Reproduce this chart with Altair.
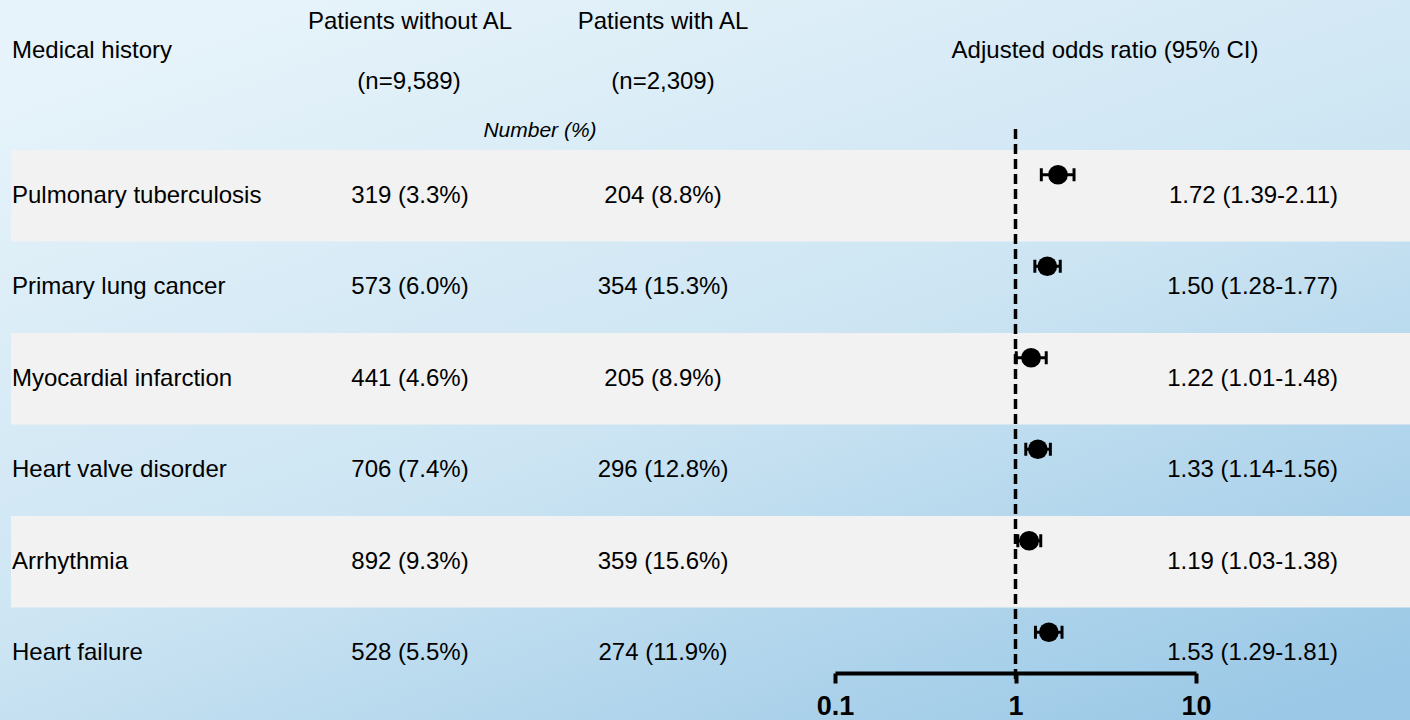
import altair as alt
import pandas as pd

# ---- data -----------------------------------------------------------------
conditions = [
    "Pulmonary tuberculosis",
    "Primary lung cancer",
    "Myocardial infarction",
    "Heart valve disorder",
    "Arrhythmia",
    "Heart failure",
]
without_n = [319, 573, 441, 706, 892, 528]
without_pct = [3.3, 6.0, 4.6, 7.4, 9.3, 5.5]
with_n = [204, 354, 205, 296, 359, 274]
with_pct = [8.8, 15.3, 8.9, 12.8, 15.6, 11.9]
odds_ratio = [1.72, 1.50, 1.22, 1.33, 1.19, 1.53]
ci_low = [1.39, 1.28, 1.01, 1.14, 1.03, 1.29]
ci_high = [2.11, 1.77, 1.48, 1.56, 1.38, 1.81]
axis_ticks = [0.1, 1, 10]

W, H = 1410, 720
FONT = "Liberation Sans"

rows = pd.DataFrame({
    "cond": conditions,
    "row": list(range(len(conditions))),
    "without": [f"{n} ({p:.1f}%)" for n, p in zip(without_n, without_pct)],
    "with": [f"{n} ({p:.1f}%)" for n, p in zip(with_n, with_pct)],
    "or": odds_ratio,
    "lo": ci_low,
    "hi": ci_high,
    "or_text": [f"{o:.2f} ({l:.2f}-{h:.2f})" for o, l, h in zip(odds_ratio, ci_low, ci_high)],
})
rows["row_end"] = rows["row"] + 1
rows["mid"] = rows["row"] + 0.5

y_scale = alt.Scale(domain=[0, len(conditions)], range=[150, 699], nice=False, zero=False)
x_scale = alt.Scale(type="log", domain=[0.1, 10], range=[835, 1196], nice=False)

base = alt.Chart(rows)

# ---- background gradient ----------------------------------------------------
backdrop = alt.Chart(alt.Data(values=[{}])).mark_rect(
    color=alt.Gradient(
        gradient="linear",
        stops=[
            alt.GradientStop(color="#e6f3fa", offset=0),
            alt.GradientStop(color="#cde5f3", offset=0.5),
            alt.GradientStop(color="#9ac8e6", offset=1),
        ],
        x1=0.2, y1=0, x2=0.9, y2=1,
    )
).encode(x=alt.value(0), x2=alt.value(W), y=alt.value(0), y2=alt.value(H))

# alternating light-grey row bands
bands = base.transform_filter("datum.row % 2 == 0").mark_rect(color="#f2f2f2").encode(
    x=alt.value(11), x2=alt.value(W),
    y=alt.Y("row:Q", scale=y_scale, axis=None),
    y2="row_end:Q",
)

# ---- header texts -----------------------------------------------------------
def header(text, x, y, align="center", size=24, style="normal"):
    return alt.Chart(alt.Data(values=[{}])).mark_text(
        text=text, font=FONT, fontSize=size, fontStyle=style, color="black",
        align=align, baseline="alphabetic",
    ).encode(x=alt.value(x), y=alt.value(y))

headers = [
    header("Medical history", 12, 58, align="left"),
    header("Patients without AL", 410, 29),
    header("(n=9,589)", 409, 89),
    header("Patients with AL", 663, 29),
    header("(n=2,309)", 663, 89),
    header("Number (%)", 540, 137, size=21, style="italic"),
    header("Adjusted odds ratio (95% CI)", 1105, 58),
]

# ---- table columns -----------------------------------------------------------
def column(field, x, align):
    return base.mark_text(font=FONT, fontSize=24, color="black", align=align,
                          baseline="middle").encode(
        x=alt.value(x),
        y=alt.Y("mid:Q", scale=y_scale, axis=None),
        text=f"{field}:N",
    )

labels = column("cond", 12, "left")
col_without = column("without", 410, "center")
col_with = column("with", 663, "center")
col_or = column("or_text", 1338, "right")

# ---- forest plot ----------------------------------------------------------------
x_enc = alt.X(
    "or:Q", scale=x_scale, title="",
    axis=alt.Axis(
        values=axis_ticks, format="~g", offset=-47, grid=False, zindex=1,
        domainColor="black", domainWidth=4, tickColor="black", tickWidth=4,
        tickSize=10, labelFont=FONT, labelFontSize=27, labelFontWeight="bold",
        labelColor="black", labelPadding=10, labelFlush=False, labelOverlap=False,
        labelBound=False,
    ),
)

ref_line = alt.Chart(alt.Data(values=[{}])).mark_rule(
    color="black", strokeWidth=3.5, strokeDash=[10, 5]
).encode(x=alt.X(datum=1, scale=x_scale), y=alt.value(129), y2=alt.value(683))

whisker = base.mark_rule(color="black", strokeWidth=3, yOffset=-21).encode(
    x=alt.X("lo:Q", scale=x_scale), x2="hi:Q",
    y=alt.Y("mid:Q", scale=y_scale, axis=None),
)
cap_lo = base.mark_tick(color="black", orient="vertical", size=13, thickness=3,
                        opacity=1, yOffset=-21).encode(
    x=alt.X("lo:Q", scale=x_scale), y=alt.Y("mid:Q", scale=y_scale, axis=None))
cap_hi = base.mark_tick(color="black", orient="vertical", size=13, thickness=3,
                        opacity=1, yOffset=-21).encode(
    x=alt.X("hi:Q", scale=x_scale), y=alt.Y("mid:Q", scale=y_scale, axis=None))
dots = base.mark_point(filled=True, shape="circle", size=390, color="black",
                       opacity=1, yOffset=-21).encode(
    x=x_enc, y=alt.Y("mid:Q", scale=y_scale, axis=None))

chart = alt.layer(
    backdrop, bands, *headers, labels, col_without, col_with, col_or,
    ref_line, whisker, cap_lo, cap_hi, dots,
).properties(
    width=W, height=H, padding=0, autosize=alt.AutoSizeParams(type="none"),
).configure_view(strokeWidth=0)

chart.save("out.html", embed_options={"renderer": "svg", "actions": False})
